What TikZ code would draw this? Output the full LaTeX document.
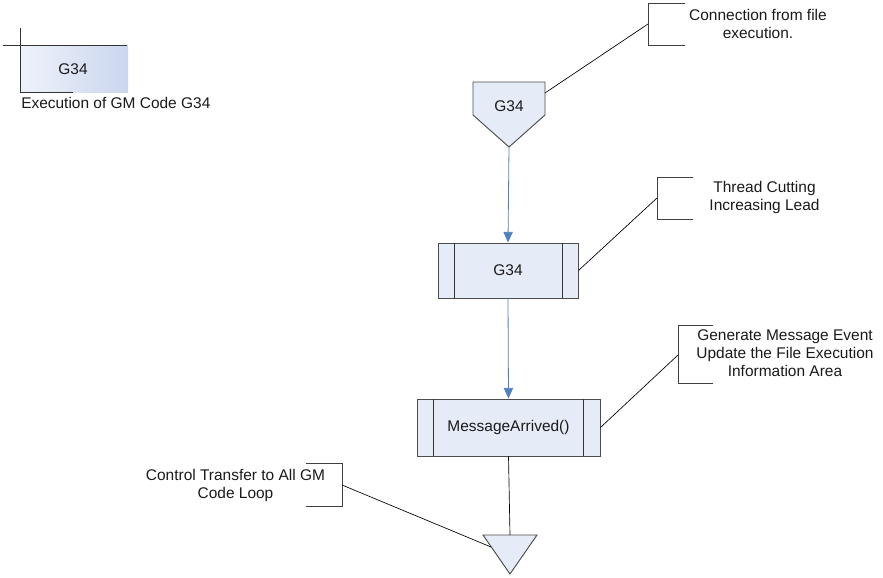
\documentclass[tikz,border=0pt]{standalone}
\usepackage{fontspec}
\setmainfont{Liberation Sans}
\usetikzlibrary{arrows.meta, positioning, calc}

\definecolor{shapefill}{HTML}{E6ECF7}
\definecolor{flowblue}{HTML}{4F81BD}
\definecolor{legendlight}{HTML}{EEF2FA}
\definecolor{legenddark}{HTML}{CBD6EE}
\definecolor{textgray}{HTML}{1A1A1A}

\begin{document}
\begin{tikzpicture}[
    x=0.75pt, y=-0.75pt,
    every node/.style={font=\fontsize{11.6}{13.5}\selectfont, text=textgray},
    proc/.style={rectangle, draw=black!70, fill=shapefill, line width=0.7pt, inner sep=0pt},
    note/.style={align=center, inner sep=0pt},
    bracket/.style={draw=black!75, line width=0.6pt},
    link/.style={draw=black, line width=0.5pt},
    flow/.style={-{Triangle[length=8pt, width=7pt]}, draw=flowblue, line width=0.6pt},
    plain/.style={draw=black!80, line width=0.6pt}
]
\useasboundingbox (0,0) rectangle (883,578);

% Legend in the corner
\shade[left color=legendlight, right color=legenddark] (20,45) rectangle (128,92);
\draw[plain] (20,28) -- (20,92) -- (73,92);
\draw[plain] (3,45) -- (127,45);
\node (legend) at (73,69) {G34};
\node[note, anchor=west] (legendtxt) at (21,103) {Execution of GM Code G34};

% Off-page connector on top
\filldraw[proc] (473,82) -- (545,82) -- (545,115) -- (509,147) -- (473,115) -- cycle;
\node (entry) at (509,106) {G34};
\coordinate (entrytip) at (509,147);
\coordinate (entryside) at (545,93);

% Predefined processes
\node[proc, minimum width=105pt, minimum height=41.25pt] (g34) at (508,270.5) {G34};
\draw[plain] ($(g34.north west)+(17,0)$) -- ($(g34.south west)+(17,0)$);
\draw[plain] ($(g34.north east)+(-16,0)$) -- ($(g34.south east)+(-16,0)$);

\node[proc, minimum width=137.25pt, minimum height=42.75pt] (msg) at (508.5,427.5) {MessageArrived()};
\draw[plain] ($(msg.north west)+(17,0)$) -- ($(msg.south west)+(17,0)$);
\draw[plain] ($(msg.north east)+(-17,0)$) -- ($(msg.south east)+(-17,0)$);

% Exit triangle
\filldraw[proc] (483,535) -- (537,535) -- (510,574) -- cycle;
\coordinate (exittop) at (510,535);
\coordinate (exitside) at (491,547);

% Flow
\draw[flow] (entrytip) -- (g34.north);
\draw[flow] (g34.south) -- (msg.north);
\draw[link] (msg.south) -- (exittop);

% Annotations
\draw[bracket] (685,3) -- (648,3) -- (648,45) -- (685,45);
\coordinate (conn) at (648,24);
\node[note] (conntxt) at (758,24) {Connection from file\\execution.};
\draw[link] (conn) -- (entryside);

\draw[bracket] (693,177) -- (657,177) -- (657,219) -- (693,219);
\coordinate (thread) at (657,198);
\node[note] (threadtxt) at (764.5,197.5) {Thread Cutting\\Increasing Lead};
\draw[link] (thread) -- (g34.east);

\draw[bracket] (713,325) -- (678,325) -- (678,383) -- (713,383);
\coordinate (gen) at (678,355);
\node[note] (gentxt) at (785,353.5) {Generate Message Event\\Update the File Execution\\Information Area};
\draw[link] (gen) -- (msg.east);

\draw[bracket] (306,463) -- (342,463) -- (342,506) -- (306,506);
\coordinate (ctrl) at (342,485);
\node[note] (ctrltxt) at (235.5,485) {Control Transfer to All GM\\Code Loop};
\draw[link] (ctrl) -- (exitside);

\end{tikzpicture}
\end{document}
